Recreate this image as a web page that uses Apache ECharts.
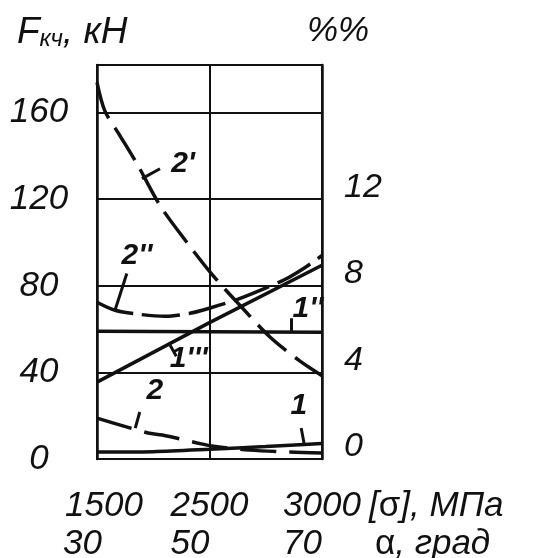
<!DOCTYPE html>
<html>
<head>
<meta charset="utf-8">
<script src="https://cdn.jsdelivr.net/npm/echarts@6/dist/echarts.min.js"></script>
<style>html,body{margin:0;padding:0;background:#fff}#c{width:542px;height:558px}</style>
</head>
<body>
<div id="c"></div>
<script>
// Angle axis (α, град) and matching stress labels ([σ], МПа)
const alphaTicks = [30, 50, 70];
const sigmaTicks = ['1500', '2500', '3000'];
const leftTicks = [0, 40, 80, 120, 160];
const rightTicks = [0, 4, 8, 12];

// Curve 2'
const alpha2p = [30, 31.4, 34.1, 37.3, 41.2, 46.0, 50.6, 55.4, 60.8, 66.1, 70];
const f2p = [174, 160.8, 149.3, 135.5, 117.1, 100.0, 84.8, 71.0, 56.2, 45.2, 38.5];
// Curve 2''
const alpha2pp = [30, 33.2, 37.6, 42.1, 46.5, 50.4, 54.5, 59, 63.4, 67, 70];
const f2pp = [72.4, 68.7, 66.8, 65.9, 67.3, 70, 73.3, 77.9, 82.9, 88.5, 94];
// Curve 1''
const alpha1pp = [30, 70];
const f1pp = [59, 58.5];
// Curve 1'''
const alpha1ppp = [30, 50, 70];
const f1ppp = [35.5, 63, 89.5];
// Curve 2
const alpha2 = [30, 39.1, 41.6, 47.8, 50.4, 57.1, 64.3, 70];
const f2 = [18.9, 12.0, 11.1, 7.4, 6.0, 4.1, 3.2, 2.8];
// Curve 1
const alpha1 = [30, 40, 50, 60, 70];
const f1 = [3.2, 3.4, 4.5, 5.8, 7.2];

const FONT = "'Liberation Sans', Arial, sans-serif";
const INK = '#111';
const zip = (a, b) => a.map((x, i) => [x, b[i]]);

function curve(name, xs, ys, dash, lbl, lead) {
  return {
    name, type: 'line', data: zip(xs, ys), symbol: 'none',
    smooth: xs.length > 3 ? 0.3 : false,
    lineStyle: { color: INK, width: 3.5, type: dash || 'solid' },
    markPoint: {
      symbol: 'circle', symbolSize: 0, silent: true,
      label: { show: true, formatter: name, color: INK, fontFamily: FONT, fontSize: 30, fontStyle: 'italic', fontWeight: 'bold' },
      data: [{ coord: lbl }]
    },
    markLine: {
      symbol: 'none', silent: true, label: { show: false },
      lineStyle: { color: INK, width: 3, type: 'solid' },
      data: [[{ coord: lead[0] }, { coord: lead[1] }]]
    }
  };
}

const chart = echarts.init(document.getElementById('c'));
const lab = (w) => ({ width: w, align: 'left', fontSize: 35, fontStyle: 'italic', fontFamily: FONT, color: INK });
const nameRich = {
  g: { fontSize: 35, fontStyle: 'italic', fontFamily: FONT, color: INK },
  n: { fontSize: 35, fontStyle: 'normal', fontFamily: FONT, color: INK }
};
const boxKey = v => v === 30 ? 'f' : 's';
const labelAxis = (offset, fmt, rich) => ({
  type: 'value', min: 30, max: 70, interval: 20, position: 'bottom', offset,
  axisLine: { show: false }, axisTick: { show: false }, splitLine: { show: false },
  axisLabel: { margin: 0, verticalAlign: 'middle', align: 'center', formatter: fmt, rich }
});
const nameAxis = (offset, name, gap) => ({
  type: 'value', min: 30, max: 70, interval: 20, position: 'bottom', offset,
  axisLine: { show: false }, axisTick: { show: false }, splitLine: { show: false },
  axisLabel: { show: false },
  name, nameLocation: 'end', nameGap: gap,
  nameTextStyle: { verticalAlign: 'middle', rich: nameRich }
});
chart.setOption({
  animation: false,
  backgroundColor: '#fff',
  title: [
    { text: '{a|F}{b|кч}{a|, кН}', left: 12, top: 9,
      textStyle: { fontWeight: 'normal', rich: {
        a: { fontSize: 37, fontStyle: 'italic', fontWeight: 'normal', fontFamily: FONT, color: INK },
        b: { fontSize: 24, fontStyle: 'italic', fontWeight: 'normal', fontFamily: FONT, color: INK, verticalAlign: 'bottom', padding: [10, 0, 0, 0] } } } },
    { text: '%%', left: 302, top: 9, textStyle: { fontSize: 35, fontStyle: 'italic', fontWeight: 'normal', fontFamily: FONT, color: INK } }
  ],
  grid: { left: 97, right: 220, top: 65, bottom: 99, show: true, borderColor: INK, borderWidth: 2, outerBoundsMode: 'none', containLabel: false },
  xAxis: [
    { type: 'value', min: 30, max: 70, interval: 20,
      axisLine: { show: true, lineStyle: { color: INK, width: 2 } },
      axisTick: { show: false }, axisLabel: { show: false },
      splitLine: { show: true, lineStyle: { color: INK, width: 2 } } },
    labelAxis(47, v => '{' + boxKey(v) + '|' + sigmaTicks[alphaTicks.indexOf(v)] + '}', { f: lab(64), s: lab(78) }),
    labelAxis(85, v => '{' + boxKey(v) + '|' + v + '}', { f: lab(68), s: lab(78) }),
    nameAxis(47, '{g|[}{n|σ}{g|], МПа}', 47),
    nameAxis(85, '{n|α}{g|, град}', 53)
  ],
  yAxis: [
    { type: 'value', min: 0, max: 182, interval: 40, position: 'left',
      axisLine: { show: true, lineStyle: { color: INK, width: 2.5 } },
      axisTick: { show: false },
      splitLine: { show: true, lineStyle: { color: INK, width: 2 } },
      axisLabel: { showMaxLabel: false, margin: 58, align: 'center', fontSize: 35, fontStyle: 'italic', fontFamily: FONT, color: INK,
        formatter: v => leftTicks.includes(v) ? String(v) : '' } },
    { type: 'value', min: 0, max: 18.2, interval: 4, position: 'right',
      axisLine: { show: true, lineStyle: { color: INK, width: 2.5 } },
      axisTick: { show: false }, splitLine: { show: false },
      axisLabel: { showMaxLabel: false, margin: 22, align: 'left', verticalAlign: 'bottom', lineHeight: 24, fontSize: 34, fontStyle: 'italic', fontFamily: FONT, color: INK,
        formatter: v => rightTicks.includes(v) ? String(v) : '' } }
  ],
  series: [
    curve("2'", alpha2p, f2p, [38, 11], [45.3, 136.4], [[41.2, 134.1], [38, 129.5]]),
    curve("2''", alpha2pp, f2pp, [38, 9], [37.1, 94], [[35.3, 85.7], [33.2, 68.7]]),
    curve("1''", alpha1pp, f1pp, 'solid', [67.5, 69.5], [[64.5, 65], [64.5, 59]]),
    curve("1'''", alpha1ppp, f1ppp, 'solid', [46.3, 46.5], [[43, 52.5], [44.1, 47.5]]),
    curve('2', alpha2, f2, [36, 13], [40.3, 31.5], [[37.6, 21.7], [36.8, 14.3]]),
    curve('1', alpha1, f1, 'solid', [65.9, 24.5], [[66.3, 14.3], [66.8, 7.4]])
  ]
});
</script>
</body>
</html>
